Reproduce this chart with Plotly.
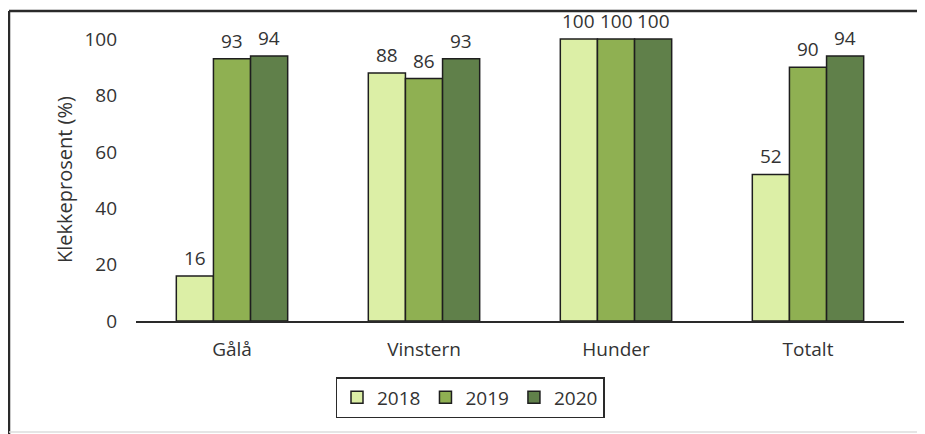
import plotly.graph_objects as go

categories = ["Gålå", "Vinstern", "Hunder", "Totalt"]
years = ["2018", "2019", "2020"]
values_2018 = [16, 88, 100, 52]
values_2019 = [93, 86, 100, 90]
values_2020 = [94, 93, 100, 94]
colors = ["#dcefa6", "#8fb052", "#60804a"]
y_ticks = [0, 20, 40, 60, 80, 100]
y_title = "Klekkeprosent (%)"

series = [values_2018, values_2019, values_2020]
FONT = "Open Sans"
FS = 19
TXT = "#333333"
BARGAP = 0.42

fig = go.Figure()
for name, vals, col in zip(years, series, colors):
    fig.add_trace(go.Bar(
        x=categories, y=vals, name=name,
        marker=dict(color=col, line=dict(color="#1e1e1e", width=1.5)),
    ))

# data labels above each bar
bw = (1 - BARGAP) / len(series)
for k, vals in enumerate(series):
    for i, v in enumerate(vals):
        fig.add_annotation(x=i + (k - (len(series) - 1) / 2) * bw, y=v,
                           xref="x", yref="y", text=str(v), showarrow=False,
                           yanchor="bottom", yshift=3,
                           font=dict(size=FS, family=FONT, color=TXT))

# the page body adds an 8px offset; figure is sized to fill the rest
OFF = 8
W, H = 925 - OFF, 434 - OFF
L, T = 136 - OFF, 25 - OFF
pw, ph = 768, 296
R = W - L - pw
B = H - T - ph

def px(x):
    return (x - OFF - L) / pw

def py(y):
    return (H - B - (y - OFF)) / ph

# outer frame (left and top strong, bottom faint)
fig.add_shape(type="line", xref="paper", yref="paper",
              x0=px(9), x1=px(9), y0=py(434), y1=py(11),
              line=dict(color="#2a2a2a", width=2.5))
fig.add_shape(type="line", xref="paper", yref="paper",
              x0=px(9), x1=px(925), y0=py(11), y1=py(11),
              line=dict(color="#2a2a2a", width=2.5))
fig.add_shape(type="line", xref="paper", yref="paper",
              x0=px(9), x1=px(925), y0=py(432), y1=py(432),
              line=dict(color="#dddddd", width=1.5))

fig.add_annotation(text=y_title, textangle=-90, xref="paper", yref="paper",
                   x=px(64), y=py(180), xanchor="center", yanchor="middle",
                   showarrow=False, font=dict(size=20, family=FONT, color=TXT))

fig.update_layout(
    width=W, height=H,
    margin=dict(l=L, r=R, t=T, b=B, autoexpand=False),
    paper_bgcolor="white", plot_bgcolor="white",
    barmode="group", bargap=BARGAP, bargroupgap=0,
    font=dict(family=FONT, size=FS, color=TXT),
    xaxis=dict(showline=True, linecolor="#2a2a2a", linewidth=2,
               ticks="", showgrid=False, range=[-0.5, 3.5],
               tickfont=dict(size=FS), automargin=False, ticklabelstandoff=10),
    yaxis=dict(range=[0, 105], tickvals=y_ticks, showgrid=False,
               showline=False, zeroline=False, ticks="",
               tickfont=dict(size=FS), automargin=False, ticklabelstandoff=18),
    legend=dict(orientation="h", x=px(470), xanchor="center",
                y=py(377), yanchor="top",
                bordercolor="#2a2a2a", borderwidth=1.5,
                font=dict(size=FS), itemwidth=30, tracegroupgap=0),
    showlegend=True,
)

fig.write_html("out.html")
